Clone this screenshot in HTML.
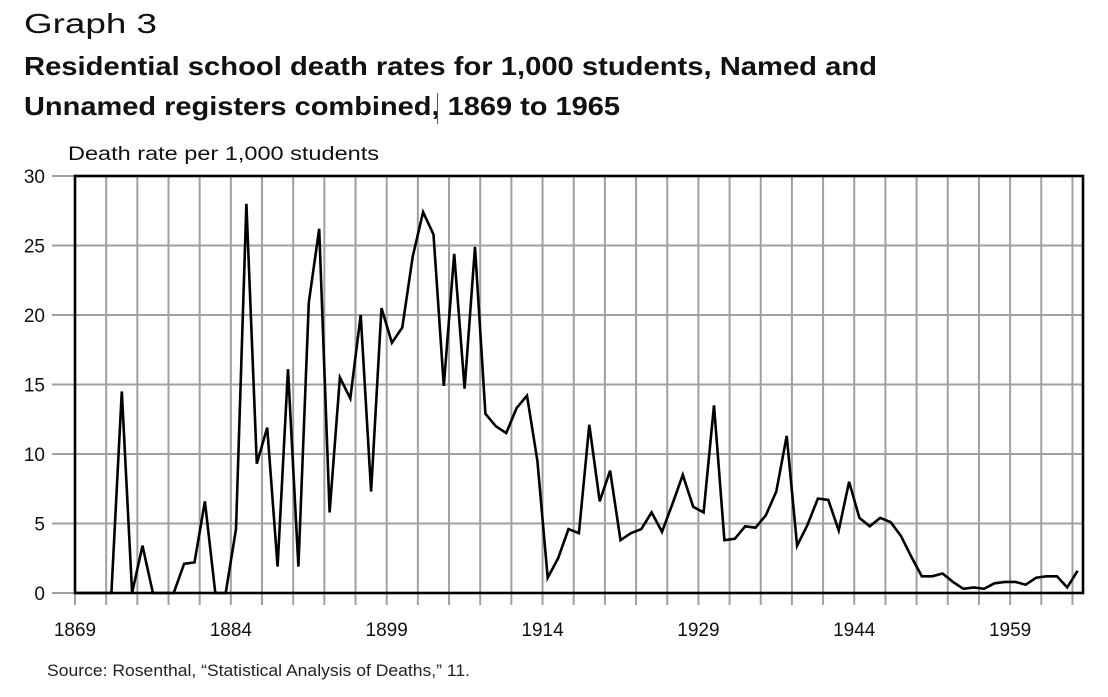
<!DOCTYPE html>
<html><head><meta charset="utf-8"><style>
html,body{margin:0;padding:0;background:#fff;}
svg{display:block;font-family:"Liberation Sans",sans-serif;}
</style></head><body>
<svg id="s" width="1108" height="697" viewBox="0 0 1108 697" xmlns="http://www.w3.org/2000/svg">
<text x="24" y="33" font-size="28" fill="#111" textLength="133" lengthAdjust="spacingAndGlyphs">Graph 3</text>
<text x="24" y="75" font-size="26" font-weight="bold" fill="#111" textLength="853" lengthAdjust="spacingAndGlyphs">Residential school death rates for 1,000 students, Named and</text>
<text x="24" y="115" font-size="26" font-weight="bold" fill="#111" textLength="596" lengthAdjust="spacingAndGlyphs">Unnamed registers combined, 1869 to 1965</text>
<line x1="437.5" y1="93" x2="437.5" y2="124" stroke="#555" stroke-width="1"/>
<text x="68" y="160" font-size="19" fill="#111" textLength="311" lengthAdjust="spacingAndGlyphs">Death rate per 1,000 students</text>
<g id="grid"></g>
<polyline id="ln" fill="none" stroke="#000" stroke-width="2.6" stroke-linejoin="miter"/>
<rect x="75" y="176" width="1008" height="417" fill="none" stroke="#000" stroke-width="2.6"/>
<text x="47" y="676" font-size="17" fill="#222" textLength="423" lengthAdjust="spacingAndGlyphs">Source: Rosenthal, “Statistical Analysis of Deaths,” 11.</text>
</svg>
<script>
var ns="http://www.w3.org/2000/svg",g=document.getElementById("grid");
function el(t,a,txt){var e=document.createElementNS(ns,t);for(var k in a)e.setAttribute(k,a[k]);if(txt!=null)e.textContent=txt;g.appendChild(e);return e;}
var x0=75,pw=10.39,y0=593,py=13.9;
for(var v=0;v<=30;v+=5){var y=y0-v*py;el("line",{x1:52,y1:y,x2:1083,y2:y,stroke:"#a0a0a0","stroke-width":2});
el("text",{x:45,y:y+7,"font-size":19,"text-anchor":"end",fill:"#111"},String(v));}
for(var k=0;k<=32;k++){var x=x0+k*3*pw;el("line",{x1:x,y1:176,x2:x,y2:605,stroke:"#a0a0a0","stroke-width":2});
if(k%5==0)el("text",{x:x,y:636,"font-size":19,"text-anchor":"middle",fill:"#111"},String(1869+k*3));}
var d=[0,0,0,0,14.5,0,3.4,0,0,0,2.1,2.2,6.6,0,0,4.6,28,9.3,11.9,1.9,16.1,1.9,20.9,26.2,5.8,15.5,14.0,20.0,7.3,20.5,18.0,19.1,24.2,27.4,25.8,14.9,24.4,14.7,24.9,12.9,12.0,11.5,13.3,14.2,9.5,1.1,2.5,4.6,4.3,12.1,6.6,8.8,3.8,4.3,4.6,5.8,4.4,6.4,8.5,6.2,5.8,13.5,3.8,3.9,4.8,4.7,5.6,7.3,11.3,3.4,4.9,6.8,6.7,4.5,8.0,5.4,4.8,5.4,5.1,4.1,2.6,1.2,1.2,1.4,0.8,0.3,0.4,0.3,0.7,0.8,0.8,0.6,1.1,1.2,1.2,0.4,1.6];
var p=[];for(var i=0;i<d.length;i++)p.push((x0+(i+0.5)*pw).toFixed(1)+","+(y0-d[i]*py).toFixed(1));
p.unshift(x0+","+y0);
document.getElementById("ln").setAttribute("points",p.join(" "));
</script>
</body></html>
